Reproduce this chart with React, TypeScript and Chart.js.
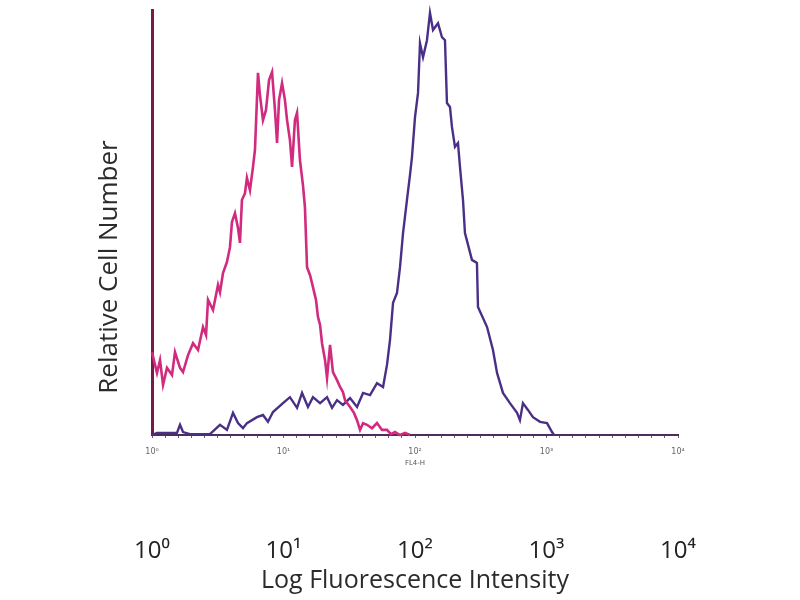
import React, { useEffect, useRef } from "react";
import { Chart, registerables } from "chart.js";

Chart.register(...registerables);

// x positions are in log decades (0 = 10^0 ... 4 = 10^4); y is relative cell count (0-100)
const isotypeLog = [0.000, 0.023, 0.038, 0.061, 0.084, 0.114, 0.152, 0.175, 0.213, 0.236, 0.274, 0.312, 0.350, 0.388, 0.411, 0.426, 0.464, 0.502, 0.517, 0.540, 0.570, 0.593, 0.608, 0.631, 0.654, 0.669, 0.684, 0.707, 0.722, 0.745, 0.768, 0.783, 0.806, 0.821, 0.844, 0.867, 0.890, 0.913, 0.935, 0.951, 0.966, 0.989, 1.011, 1.027, 1.049, 1.065, 1.087, 1.103, 1.125, 1.148, 1.163, 1.179, 1.202, 1.224, 1.247, 1.262, 1.278, 1.293, 1.316, 1.331, 1.354, 1.376, 1.407, 1.430, 1.452, 1.468, 1.506, 1.536, 1.559, 1.582, 1.605, 1.635, 1.673, 1.711, 1.749, 1.787, 1.817, 1.848, 1.886, 1.924, 1.962];
const isotypeCount = [19.5, 16.5, 14.6, 17.6, 11.8, 15.8, 14.1, 19.5, 15.8, 14.8, 18.8, 21.6, 20.0, 25.4, 23.5, 31.8, 29.4, 35.3, 33.6, 38.1, 40.7, 44.2, 50.1, 52.2, 48.7, 45.2, 55.3, 56.9, 60.5, 57.6, 63.1, 67.1, 85.2, 80.0, 74.1, 76.5, 83.5, 85.4, 76.5, 68.7, 78.8, 82.8, 78.8, 74.1, 69.4, 63.1, 74.1, 75.8, 64.7, 58.8, 53.6, 39.5, 37.6, 34.8, 31.8, 27.8, 25.9, 21.6, 17.6, 13.4, 21.2, 14.8, 12.9, 11.3, 10.1, 8.2, 6.6, 5.2, 3.5, 1.2, 2.8, 2.4, 1.6, 2.8, 1.2, 1.2, 0.2, 0.7, 0.0, 0.5, 0.0];

const stainedLog = [0.000, 0.038, 0.190, 0.213, 0.236, 0.289, 0.441, 0.517, 0.570, 0.616, 0.654, 0.692, 0.722, 0.798, 0.844, 0.882, 0.920, 0.996, 1.049, 1.103, 1.141, 1.186, 1.224, 1.278, 1.331, 1.369, 1.407, 1.452, 1.506, 1.559, 1.605, 1.658, 1.711, 1.757, 1.787, 1.810, 1.833, 1.863, 1.886, 1.909, 1.939, 1.962, 1.977, 2.000, 2.023, 2.038, 2.061, 2.091, 2.114, 2.137, 2.175, 2.205, 2.228, 2.243, 2.266, 2.281, 2.304, 2.327, 2.342, 2.365, 2.380, 2.433, 2.471, 2.479, 2.548, 2.593, 2.624, 2.669, 2.722, 2.776, 2.798, 2.821, 2.859, 2.897, 2.951, 3.004, 3.042, 3.057];
const stainedCount = [0.0, 0.5, 0.5, 2.4, 0.7, 0.2, 0.2, 2.4, 1.2, 5.2, 2.8, 1.6, 2.8, 4.2, 4.7, 3.1, 5.4, 7.5, 8.9, 6.4, 9.9, 6.6, 8.9, 7.5, 8.9, 6.4, 8.2, 7.1, 8.7, 6.6, 9.9, 9.4, 12.2, 11.3, 16.5, 22.4, 31.1, 33.4, 39.5, 47.5, 55.3, 61.2, 65.4, 74.8, 80.5, 92.2, 88.9, 92.9, 99.3, 95.3, 96.9, 93.6, 92.9, 78.1, 77.2, 72.5, 67.8, 68.7, 63.1, 55.3, 47.5, 41.2, 40.5, 30.1, 25.4, 20.0, 14.6, 9.9, 7.5, 5.2, 3.5, 7.5, 5.9, 4.2, 3.1, 2.8, 0.7, 0.0];

const decadeLabels = ["10\u2070", "10\u00B9", "10\u00B2", "10\u00B3", "10\u2074"];
const channelTitle = "FL4-H";
const xTitle = "Log Fluorescence Intensity";
const yTitle = "Relative Cell Number";

const yTitlePlugin = {
  id: "yTitlePlugin",
  afterDraw(chart: any) {
    const ctx = chart.ctx;
    ctx.save();
    ctx.translate(110, 267);
    ctx.rotate(-Math.PI / 2);
    ctx.font = "26px 'Open Sans'";
    ctx.fillStyle = "#2b2b2b";
    ctx.textAlign = "center";
    ctx.textBaseline = "middle";
    ctx.fillText(yTitle, 0, 0);
    ctx.restore();
  },
};

function decadeLabel(v: number) {
  const r = Math.round(v);
  if (Math.abs(v - r) < 1e-6 && r >= 0 && r < decadeLabels.length) return decadeLabels[r];
  return "";
}

export default function App() {
  const ref = useRef<HTMLCanvasElement>(null);
  useEffect(() => {
    const chart = new Chart(ref.current!, {
      type: "line",
      data: {
        datasets: [
          {
            label: "isotype",
            data: isotypeLog.map((x, i) => ({ x, y: isotypeCount[i] })),
            borderColor: "#d12b80",
            borderWidth: 2.6,
            pointRadius: 0,
            tension: 0,
            fill: false,
            clip: false as any,
          },
          {
            label: "stained",
            data: stainedLog.map((x, i) => ({ x, y: stainedCount[i] })),
            borderColor: "#4a2f86",
            borderWidth: 2.4,
            pointRadius: 0,
            tension: 0,
            fill: false,
            clip: false as any,
          },
        ],
      },
      options: {
        animation: false,
        responsive: false,
        maintainAspectRatio: false,
        layout: { padding: { top: 10, right: 122, left: 0, bottom: 0 } },
        plugins: { legend: { display: false }, tooltip: { enabled: false } },
        scales: {
          x: {
            type: "linear",
            position: "bottom",
            weight: 0,
            min: 0,
            max: 4,
            afterFit: (s: any) => { s.height = 35; },
            border: { display: true, color: "#4d2d5a", width: 2 },
            grid: { drawOnChartArea: false, drawTicks: true, tickLength: 3, color: "#6b5a78" },
            ticks: {
              stepSize: 0.1,
              autoSkip: false,
              maxRotation: 0,
              padding: 9,
              font: { size: 8, family: "'DejaVu Sans'" },
              color: "#666",
              callback: (v: any) => decadeLabel(Number(v)),
            },
            title: { display: true, text: channelTitle, font: { size: 7, family: "'DejaVu Sans'" }, color: "#555", padding: { top: 0, bottom: 3 } },
          },
          x2: {
            type: "linear",
            position: "bottom",
            weight: 1,
            min: 0,
            max: 4,
            afterFit: (s: any) => { s.height = 130; },
            border: { display: false },
            grid: { display: false, drawTicks: false },
            ticks: {
              stepSize: 1,
              autoSkip: false,
              maxRotation: 0,
              padding: 67,
              font: { size: 24, family: "'Open Sans'" },
              color: "#222",
              callback: (v: any) => decadeLabel(Number(v)),
            },
            title: { display: true, text: xTitle, font: { size: 25, family: "'Open Sans'" }, color: "#2b2b2b", padding: { top: 0, bottom: 4 } },
          },
          y: {
            type: "linear",
            min: 0,
            max: 100,
            afterFit: (s: any) => { s.width = 152; },
            border: { display: true, color: "#7a1a45", width: 3 },
            grid: { display: false, drawTicks: false },
            ticks: { display: false },
          },
        },
      },
      plugins: [yTitlePlugin],
    });
    return () => chart.destroy();
  }, []);
  return (
    <div style={{ position: "fixed", left: 0, top: 0, width: 800, height: 600, background: "#fff" }}>
      <canvas ref={ref} width={800} height={600} style={{ width: 800, height: 600, display: "block" }} />
    </div>
  );
}
